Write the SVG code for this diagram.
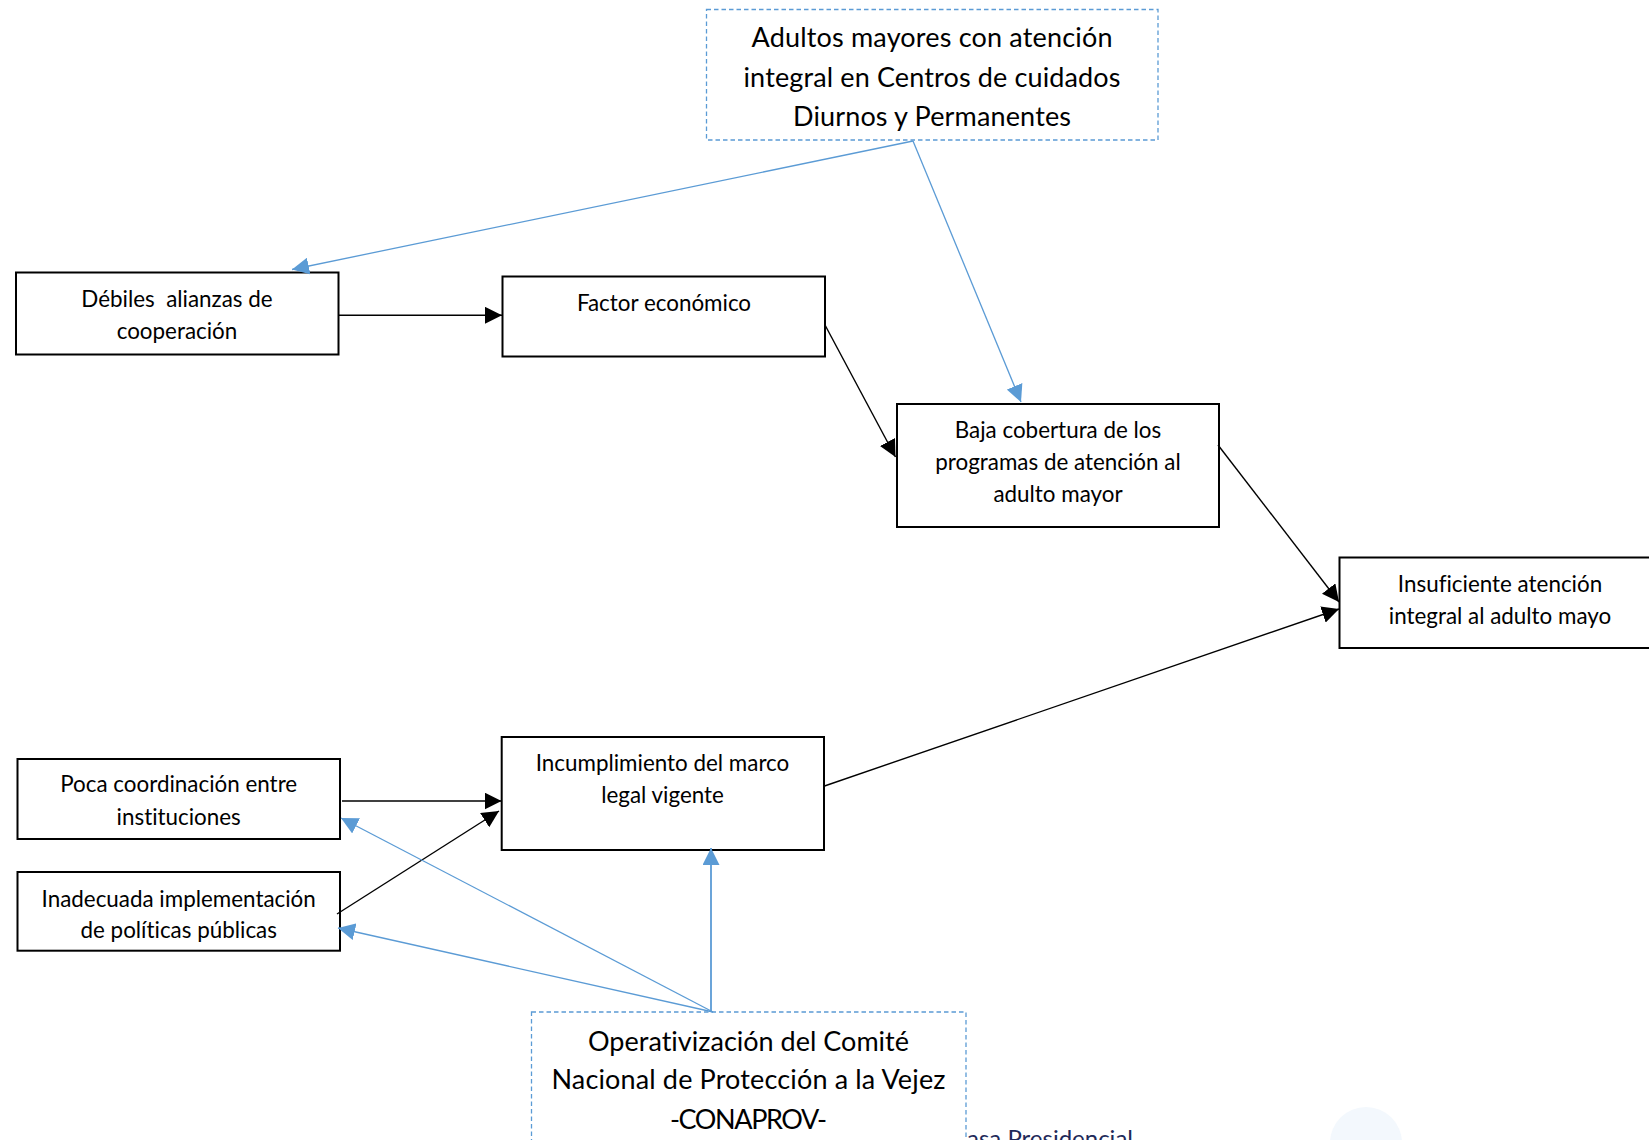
<svg xmlns="http://www.w3.org/2000/svg" width="1649" height="1140" viewBox="0 0 1649 1140">
<style>
.box{fill:#fff;stroke:#000;stroke-width:2}
.goal{fill:#fff;stroke:#5b9bd5;stroke-width:1.3;stroke-dasharray:4.5 3}
text{font-family:"Lato","Carlito","Liberation Sans",sans-serif;fill:#000;text-anchor:middle;font-variant-ligatures:none}
.s{font-size:22.4px}
.l{font-size:27px}
.k{fill:none;stroke:#000;stroke-width:1.4;marker-end:url(#ak)}
.b{fill:none;stroke:#5b9bd5;stroke-width:1.3;marker-end:url(#ab)}
</style>
<defs>
<marker id="ak" markerUnits="userSpaceOnUse" markerWidth="17" markerHeight="17" refX="17" refY="8.5" orient="auto"><path d="M0,0L17,8.5L0,17z" fill="#000"/></marker>
<marker id="ab" markerUnits="userSpaceOnUse" markerWidth="17" markerHeight="17" refX="17" refY="8.5" orient="auto"><path d="M0,0L17,8.5L0,17z" fill="#5b9bd5"/></marker>
</defs>
<rect width="1649" height="1140" fill="#fff"/>
<circle cx="1366" cy="1143" r="36" fill="#f3f8fd"/>
<text x="1050" y="1147" style="font-size:24px;fill:#1f2a5a">asa Presidencial</text>
<g id="n-adultos"><rect class="goal" x="706.5" y="9.5" width="451.5" height="130.5"/>
<text class="l" x="932" y="47" textLength="361">Adultos mayores con atención</text>
<text class="l" x="932" y="86.5" textLength="377">integral en Centros de cuidados</text>
<text class="l" x="932" y="125.5" textLength="278">Diurnos y Permanentes</text></g>
<g id="n-debiles"><rect class="box" x="16" y="272.5" width="322.5" height="82"/>
<text class="s" x="177" y="306.7" xml:space="preserve">Débiles  alianzas de</text>
<text class="s" x="177" y="338.7">cooperación</text></g>
<g id="n-factor"><rect class="box" x="502.5" y="276.5" width="322.5" height="80"/>
<text class="s" x="664" y="310.7">Factor económico</text></g>
<g id="n-baja"><rect class="box" x="897" y="404" width="322" height="123"/>
<text class="s" x="1058" y="437.7">Baja cobertura de los</text>
<text class="s" x="1058" y="469.7">programas de atención al</text>
<text class="s" x="1058" y="501.7">adulto mayor</text></g>
<g id="n-insuficiente"><rect class="box" x="1339.5" y="557.5" width="330" height="90.5"/>
<text class="s" x="1500" y="591.7">Insuficiente atención</text>
<text class="s" x="1500" y="623.7">integral al adulto mayo</text></g>
<g id="n-incumplimiento"><rect class="box" x="501.7" y="737" width="322.3" height="113"/>
<text class="s" x="662.5" y="770.7">Incumplimiento del marco</text>
<text class="s" x="662.5" y="802.7">legal vigente</text></g>
<g id="n-poca"><rect class="box" x="17.5" y="759" width="322.5" height="80"/>
<text class="s" x="178.7" y="792.4">Poca coordinación entre</text>
<text class="s" x="178.7" y="824.7">instituciones</text></g>
<g id="n-inadecuada"><rect class="box" x="17.5" y="872" width="322.5" height="78.7"/>
<text class="s" x="178.7" y="906.7">Inadecuada implementación</text>
<text class="s" x="178.7" y="937.7">de políticas públicas</text></g>
<g id="n-conaprov"><rect class="goal" x="531.5" y="1012" width="434.5" height="160"/>
<text class="l" x="748.5" y="1050.5" textLength="321">Operativización del Comité</text>
<text class="l" x="748.5" y="1089" textLength="394">Nacional de Protección a la Vejez</text>
<text class="l" x="748.5" y="1128.5" textLength="157">-CONAPROV-</text></g>
<g id="connectors">
<line class="k" x1="338.5" y1="315.3" x2="502" y2="315.3"/>
<line class="k" x1="825" y1="325" x2="895.5" y2="457"/>
<line class="k" x1="1218" y1="445" x2="1339" y2="602"/>
<line class="k" x1="824.5" y1="786" x2="1339" y2="609"/>
<line class="k" x1="342" y1="801" x2="501.5" y2="801"/>
<line class="k" x1="337" y1="914" x2="499" y2="811"/>
<line class="b" x1="913" y1="141" x2="292" y2="269.5"/>
<line class="b" x1="913" y1="141" x2="1021" y2="402"/>
<line class="b" x1="713" y1="1012" x2="341" y2="818"/>
<line class="b" x1="713" y1="1012" x2="338" y2="928"/>
<line class="b" style="stroke-width:1.8" x1="711" y1="1012" x2="711" y2="848"/>
</g>
</svg>
